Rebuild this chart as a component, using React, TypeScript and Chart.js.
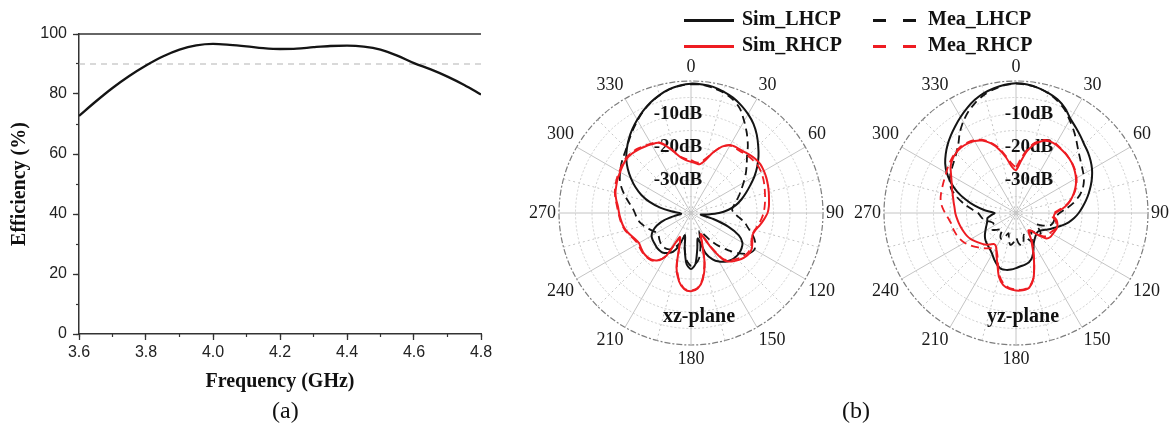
import React, { useEffect, useRef } from 'react';
import { Chart, registerables } from 'chart.js';

Chart.register(...registerables);

const SERIF = '"Liberation Serif", "Times New Roman", serif';
const SANS = '"Liberation Sans", Arial, sans-serif';
const RED = '#ee1c22';
const BLACK = '#141414';

// ---- (a) radiation efficiency versus frequency ----
const FREQ_GHZ = [3.6, 3.65, 3.7, 3.75, 3.8, 3.85, 3.9, 3.95, 4.0, 4.05, 4.1, 4.15, 4.2, 4.25, 4.3, 4.35, 4.4, 4.45, 4.5, 4.55, 4.6, 4.65, 4.7, 4.75, 4.8];
const EFFICIENCY_PCT = [72.7, 77.5, 82.0, 86.0, 89.5, 92.5, 94.8, 96.2, 96.7, 96.4, 95.9, 95.3, 95.0, 95.1, 95.6, 96.0, 96.1, 95.8, 94.8, 92.8, 90.3, 88.2, 85.8, 83.0, 79.8];
const EFFICIENCY_GUIDE_PCT = 90;

// ---- (b) normalised radiation patterns (dB) ----
const ANGLE_DEG = [0, 5, 10, 15, 20, 25, 30, 35, 40, 45, 50, 55, 60, 65, 70, 75, 80, 85, 90, 95, 100, 105, 110, 115, 120, 125, 130, 135, 140, 145, 150, 155, 160, 165, 170, 175, 180, 185, 190, 195, 200, 205, 210, 215, 220, 225, 230, 235, 240, 245, 250, 255, 260, 265, 270, 275, 280, 285, 290, 295, 300, 305, 310, 315, 320, 325, 330, 335, 340, 345, 350, 355];

const XZ_SIM_LHCP = [-0.8, -0.9, -1.2, -1.9, -2.8, -4.0, -5.4, -7.0, -9.0, -11.2, -13.3, -15.5, -17.8, -20.2, -22.3, -24.2, -26.2, -28.6, -31.5, -35, -37, -33, -28, -24, -22, -21.3, -21, -21, -21.3, -22, -23, -24.5, -27, -32, -29, -24.5, -23, -24.5, -29, -33, -29.5, -27, -26, -25.3, -25.2, -25.3, -25.6, -25.8, -26.2, -27.3, -29, -31.5, -35, -37, -36.5, -34, -30.5, -27, -24, -21.4, -19, -16.6, -14.4, -12.5, -10.7, -9.0, -7.4, -5.8, -4.3, -3.0, -1.9, -1.2];
const XZ_MEA_LHCP = [-1.0, -1.0, -1.5, -2.2, -3.3, -5.0, -7.8, -10.5, -13.2, -16.0, -18.0, -19.8, -21.6, -23.2, -24.5, -25.8, -26.8, -27.5, -27, -25.5, -23.5, -22, -20, -18.5, -17.8, -18.6, -21, -24, -27, -30, -33, -34, -32, -29, -26, -24.5, -24, -25.5, -29, -33, -30.5, -28.5, -27.3, -26.8, -26.8, -27, -27.5, -28, -28, -27.2, -26.2, -25.2, -24.2, -23.5, -23, -22.2, -20.8, -19.2, -17.6, -16.2, -15.2, -14.2, -13.3, -12.3, -10.9, -9.3, -7.6, -5.9, -4.4, -3.1, -2.0, -1.3];
const XZ_SIM_RHCP = [-24.5, -24.8, -25, -23.5, -20.5, -17.8, -16.2, -15.8, -15.5, -15, -14.5, -14.3, -14.5, -14.8, -15.2, -15.6, -16, -16.3, -16.8, -17.8, -18.8, -19.8, -20.2, -19.5, -18.7, -18.5, -19, -19.8, -20.8, -22.5, -28, -33, -30, -24, -19.5, -17, -16.3, -16.8, -19, -23, -30, -32, -25, -22.5, -21.5, -21.2, -21.2, -21.5, -21.8, -21.3, -20.5, -19.6, -19, -18.6, -18.2, -17.8, -17, -16.3, -15.9, -15.5, -15.2, -14.8, -14.5, -14.6, -15, -15.5, -16, -16.5, -18.5, -21, -23, -24];
const XZ_MEA_RHCP = [-24, -24.5, -24.5, -23, -20.5, -17.8, -16.4, -16.2, -16, -15.6, -15.3, -15.2, -15.4, -15.8, -16.3, -16.8, -17.2, -17.6, -18, -18.6, -19.3, -20, -20.3, -19.8, -19, -19, -19.5, -20.3, -21.3, -23, -28.5, -33, -30, -24.3, -19.8, -17.2, -16.5, -17, -19.3, -23.5, -30, -31.5, -25, -22.3, -21.3, -21, -21, -21.2, -21.4, -21, -20.3, -19.4, -18.8, -18.4, -18, -17.5, -16.8, -16.1, -15.6, -15.2, -14.9, -14.5, -14.2, -14.3, -14.6, -15.2, -15.7, -16.3, -18.2, -20.8, -22.8, -23.6];

const YZ_SIM_LHCP = [-0.7, -0.9, -1.5, -2.3, -3.3, -4.9, -7.0, -8.4, -9.6, -10.7, -11.5, -12.4, -13.4, -14.6, -15.9, -17.2, -18.5, -19.8, -21, -22.3, -23.8, -25.5, -27.2, -28.5, -29.8, -30.8, -31.3, -31.2, -30.8, -30.2, -29.3, -27.5, -25.7, -24.6, -24.1, -23.8, -23.3, -22.8, -22.5, -22.5, -23.3, -24.4, -25.6, -26.4, -26.9, -27.3, -27.8, -28.5, -29.3, -30, -30.6, -31, -31.2, -32.5, -33.5, -30.5, -27.3, -24.2, -21, -18.2, -15.8, -13.8, -12.2, -10.7, -9.3, -7.9, -6.4, -4.9, -3.5, -2.4, -1.6, -1.0];
const YZ_MEA_LHCP = [-0.8, -1.0, -1.5, -2.4, -3.7, -5.3, -7.5, -9.5, -11.5, -13.3, -14.6, -15.6, -16.4, -17.3, -18.5, -20.2, -22.3, -24.7, -26.8, -27.8, -28.2, -28.4, -29, -31, -33, -31.5, -30.2, -31, -33, -31.5, -30, -31.2, -33, -31.2, -30, -30.8, -32.5, -31, -30.2, -31.5, -33.5, -32, -31, -31.8, -33.5, -33, -32, -31.2, -31.5, -32.5, -32, -30.8, -29.8, -29.2, -28.5, -26.5, -24, -21.5, -19.2, -17.8, -17, -16.3, -15.5, -14.4, -12.8, -10.3, -8.0, -6.0, -4.3, -2.9, -1.9, -1.1];
const YZ_SIM_RHCP = [-27, -24.5, -21, -18.5, -16.8, -16, -16, -16.3, -16.6, -17, -17.5, -18.2, -19, -20, -21.2, -22.5, -24, -26, -28, -28.5, -27.5, -27, -26.8, -27, -27.2, -27.3, -28, -30.5, -33, -33.5, -31, -28, -24, -19.5, -17, -16.5, -16.5, -16.9, -17.8, -20, -23.5, -26, -28, -28.5, -27.5, -26.5, -25.8, -25, -24.2, -23.6, -23.2, -22.8, -22.4, -22, -21.6, -21.3, -20.8, -20.2, -19.4, -18.5, -17.3, -15.8, -14.8, -14.3, -14.1, -14.3, -14.8, -15.8, -17.5, -20, -23, -26];
const YZ_MEA_RHCP = [-26, -23.5, -20.5, -18, -16.5, -15.8, -15.8, -16.2, -16.5, -17, -17.4, -18, -18.8, -19.8, -21, -22.5, -24.2, -26.5, -28.5, -29, -28, -27.3, -27, -27.5, -28, -28, -29, -31, -33, -33, -30.5, -27.5, -23.8, -19.6, -17.2, -16.7, -16.8, -17.2, -18.3, -20.5, -24, -26.5, -27.5, -27, -26, -25, -24, -23, -22, -21.3, -20.8, -20.4, -20.2, -19.5, -18.5, -17.5, -16.8, -16.5, -16.3, -16, -15.6, -15, -14.5, -14, -13.8, -14, -14.5, -15.5, -17.2, -19.5, -22.5, -25];

const DB_TICK_LABELS = [-10, -20, -30];

function EfficiencyChart() {
  const ref = useRef<HTMLCanvasElement>(null);
  useEffect(() => {
    const topBorder = {
      id: 'topBorder',
      afterDraw(chart: any) {
        const { ctx, chartArea } = chart;
        ctx.save();
        ctx.strokeStyle = '#333';
        ctx.lineWidth = 1.5;
        ctx.beginPath();
        ctx.moveTo(chartArea.left, chartArea.top);
        ctx.lineTo(chartArea.right, chartArea.top);
        ctx.stroke();
        ctx.restore();
      },
    };
    const chart = new Chart(ref.current as HTMLCanvasElement, {
      type: 'line',
      data: {
        datasets: [
          {
            data: FREQ_GHZ.map((f, i) => ({ x: f, y: EFFICIENCY_PCT[i] })),
            borderColor: BLACK,
            borderWidth: 2.3,
            pointRadius: 0,
            cubicInterpolationMode: 'monotone',
          },
          {
            data: [
              { x: FREQ_GHZ[0], y: EFFICIENCY_GUIDE_PCT },
              { x: FREQ_GHZ[FREQ_GHZ.length - 1], y: EFFICIENCY_GUIDE_PCT },
            ],
            borderColor: '#b4b4b4',
            borderWidth: 1.2,
            borderDash: [6, 5],
            pointRadius: 0,
          },
        ],
      },
      options: {
        responsive: false,
        animation: false,
        layout: { padding: { left: 0, top: 34, right: 19, bottom: 0 } },
        plugins: { legend: { display: false }, tooltip: { enabled: false } },
        scales: {
          x: {
            type: 'linear',
            position: 'bottom',
            weight: 1,
            min: 3.6,
            max: 4.8,
            ticks: {
              stepSize: 0.2,
              autoSkip: false,
              maxRotation: 0,
              callback: (v: any) => Number(v).toFixed(1),
              font: { family: SANS, size: 16 },
              color: '#222',
              padding: 3,
            },
            grid: { drawOnChartArea: false, drawTicks: true, tickLength: 6, tickColor: '#333', tickWidth: 1.3 },
            border: { display: true, color: '#333', width: 1.5 },
            title: {
              display: true,
              text: 'Frequency (GHz)',
              font: { family: SERIF, size: 20, weight: 'bold' },
              color: '#111',
              padding: { top: 0, bottom: 37 },
            },
            afterFit: (s: any) => { s.height = 97; },
          },
          xMinor: {
            type: 'linear',
            position: 'bottom',
            weight: 0,
            min: 3.6,
            max: 4.8,
            ticks: { stepSize: 0.1, display: false },
            grid: { drawOnChartArea: false, drawTicks: true, tickLength: 3, tickColor: '#333', tickWidth: 1.2 },
            border: { display: false },
            afterFit: (s: any) => { s.height = 0; },
          },
          y: {
            position: 'left',
            weight: 1,
            min: 0,
            max: 100,
            ticks: { stepSize: 20, font: { family: SANS, size: 16 }, color: '#222', padding: 6 },
            grid: { drawOnChartArea: false, drawTicks: true, tickLength: 6, tickColor: '#333', tickWidth: 1.3 },
            border: { display: true, color: '#333', width: 1.5 },
            title: {
              display: true,
              text: 'Efficiency (%)',
              font: { family: SERIF, size: 20, weight: 'bold' },
              color: '#111',
              padding: { top: 8, bottom: 0 },
            },
            afterFit: (s: any) => { s.width = 79; },
          },
          yMinor: {
            position: 'left',
            weight: 0,
            min: 0,
            max: 100,
            ticks: { stepSize: 10, display: false },
            grid: { drawOnChartArea: false, drawTicks: true, tickLength: 3, tickColor: '#333', tickWidth: 1.2 },
            border: { display: false },
            afterFit: (s: any) => { s.width = 0; },
          },
        },
      } as any,
      plugins: [topBorder],
    });
    return () => chart.destroy();
  }, []);
  return <canvas ref={ref} width={500} height={431} style={{ position: 'absolute', left: 0, top: 0 }} />;
}

type Series = { label: string; values: number[]; color: string; dashed: boolean };
type LegendRow = { label: string; color: string; dashed: boolean; y: number };

function PolarPattern(props: {
  left: number;
  plane: string;
  planeDx: number;
  dbDx: number;
  series: Series[];
  legend: LegendRow[];
  legendLineX: [number, number];
  legendTextX: number;
}) {
  const ref = useRef<HTMLCanvasElement>(null);
  useEffect(() => {
    const { left, plane, planeDx, dbDx, series, legend, legendLineX, legendTextX } = props;
    const decor = {
      id: 'polarDecor',
      beforeDatasetsDraw(chart: any) {
        const r = chart.scales.r;
        const ctx = chart.ctx;
        ctx.save();
        ctx.font = `bold 19px ${SERIF}`;
        ctx.fillStyle = '#111';
        ctx.textAlign = 'center';
        ctx.textBaseline = 'middle';
        DB_TICK_LABELS.forEach((v) => {
          ctx.fillText(`${v}dB`, r.xCenter + dbDx, r.yCenter - r.getDistanceFromCenterForValue(v));
        });
        ctx.restore();
      },
      afterDraw(chart: any) {
        const r = chart.scales.r;
        const ctx = chart.ctx;
        ctx.save();
        ctx.font = `bold 20px ${SERIF}`;
        ctx.fillStyle = '#111';
        ctx.textAlign = 'center';
        ctx.textBaseline = 'middle';
        ctx.fillText(plane, r.xCenter + planeDx, r.yCenter + 104);
        legend.forEach((row) => {
          ctx.strokeStyle = row.color;
          ctx.lineWidth = 3;
          ctx.setLineDash(row.dashed ? [13, 17] : []);
          ctx.beginPath();
          ctx.moveTo(legendLineX[0] - left, row.y);
          ctx.lineTo(legendLineX[1] - left, row.y);
          ctx.stroke();
          ctx.setLineDash([]);
          ctx.textAlign = 'left';
          ctx.fillStyle = '#111';
          ctx.fillText(row.label, legendTextX - left, row.y - 1);
        });
        ctx.restore();
      },
    };
    const chart = new Chart(ref.current as HTMLCanvasElement, {
      type: 'radar',
      data: {
        labels: ANGLE_DEG,
        datasets: series.map((s) => ({
          label: s.label,
          data: s.values,
          borderColor: s.color,
          borderWidth: s.dashed ? 1.8 : 2,
          borderDash: s.dashed ? [8, 5] : [],
          fill: false,
          pointRadius: 0,
          tension: 0.25,
        })),
      },
      options: {
        responsive: false,
        animation: false,
        layout: { padding: { left: 24, right: 31, top: 51, bottom: 55 } },
        plugins: { legend: { display: false }, tooltip: { enabled: false } },
        scales: {
          r: {
            min: -40,
            max: 0,
            startAngle: 0,
            ticks: { stepSize: 5, display: false },
            grid: {
              circular: true,
              color: (c: any) => (c.tick && c.tick.value === 0 ? '#7d7d7d' : '#cacaca'),
              lineWidth: (c: any) => (c.tick && c.tick.value === 0 ? 1.2 : 0.9),
            },
            border: {
              dash: (c: any) => (c.tick && c.tick.value === 0 ? [6, 2, 2, 2] : [2, 2]),
            },
            angleLines: {
              color: '#c4c4c4',
              lineWidth: (c: any) => (c.index % 3 === 0 ? 1 : 0),
              borderDash: (c: any) => (c.index % 6 === 0 ? [] : [2, 3]),
            },
            pointLabels: {
              callback: (label: any, index: number) => (ANGLE_DEG[index] % 30 === 0 ? String(label) : ''),
              font: { family: SERIF, size: 18 },
              color: '#1a1a1a',
              padding: 3,
            },
          },
        },
      } as any,
      plugins: [decor],
    });
    return () => chart.destroy();
  }, []);
  return (
    <canvas
      ref={ref}
      width={380}
      height={431}
      style={{ position: 'absolute', left: props.left, top: 0 }}
    />
  );
}

export default function App() {
  const caption = { position: 'absolute' as const, top: 396, font: `24px ${SERIF}`, lineHeight: '28px', color: '#111' };
  return (
    <div style={{ position: 'absolute', left: 0, top: 0, width: 1174, height: 431, overflow: 'hidden', background: '#fff' }}>
      <EfficiencyChart />
      <PolarPattern
        left={500}
        plane="xz-plane"
        planeDx={8}
        dbDx={-13}
        legendLineX={[684, 734]}
        legendTextX={742}
        legend={[
          { label: 'Sim_LHCP', color: BLACK, dashed: false, y: 20.5 },
          { label: 'Sim_RHCP', color: RED, dashed: false, y: 46.5 },
        ]}
        series={[
          { label: 'Sim_RHCP', values: XZ_SIM_RHCP, color: RED, dashed: false },
          { label: 'Mea_RHCP', values: XZ_MEA_RHCP, color: RED, dashed: true },
          { label: 'Sim_LHCP', values: XZ_SIM_LHCP, color: BLACK, dashed: false },
          { label: 'Mea_LHCP', values: XZ_MEA_LHCP, color: BLACK, dashed: true },
        ]}
      />
      <PolarPattern
        left={825}
        plane="yz-plane"
        planeDx={7}
        dbDx={13}
        legendLineX={[873, 916]}
        legendTextX={928}
        legend={[
          { label: 'Mea_LHCP', color: BLACK, dashed: true, y: 20.5 },
          { label: 'Mea_RHCP', color: RED, dashed: true, y: 46.5 },
        ]}
        series={[
          { label: 'Sim_RHCP', values: YZ_SIM_RHCP, color: RED, dashed: false },
          { label: 'Mea_RHCP', values: YZ_MEA_RHCP, color: RED, dashed: true },
          { label: 'Sim_LHCP', values: YZ_SIM_LHCP, color: BLACK, dashed: false },
          { label: 'Mea_LHCP', values: YZ_MEA_LHCP, color: BLACK, dashed: true },
        ]}
      />
      <div style={{ ...caption, left: 272 }}>(a)</div>
      <div style={{ ...caption, left: 842 }}>(b)</div>
    </div>
  );
}
